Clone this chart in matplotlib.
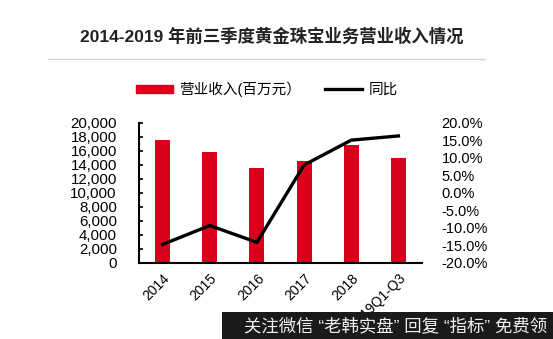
import matplotlib.pyplot as plt
from matplotlib.lines import Line2D
from matplotlib.patches import Patch, Rectangle

plt.rcParams['font.family'] = ['Liberation Sans', 'Noto Sans CJK SC', 'DejaVu Sans']

# 数据
years = ['2014', '2015', '2016', '2017', '2018', '2019Q1-Q3']
revenue = [17500, 15800, 13500, 14500, 16800, 15000]   # 营业收入(百万元)
yoy = [-14.7, -9.3, -14.1, 8.0, 15.1, 16.3]            # 同比, %

red = '#d9001b'

fig = plt.figure(figsize=(5.53, 3.39), dpi=100)
ax = fig.add_axes([0.2514, 0.2242, 0.5117, 0.413])
x = list(range(len(years)))
ax.bar(x, revenue, width=0.32, color=red, zorder=2)
ax.set_xlim(-0.5, 5.5)
ax.set_ylim(0, 20000)
ax.set_yticks(range(0, 20001, 2000))
ax.set_yticklabels([f'{v:,}' for v in range(0, 20001, 2000)])
ax.set_xticks(x)
ax.set_xticklabels(years, rotation=45, ha='right', rotation_mode='anchor')
ax.tick_params(axis='y', direction='in', length=3, width=1.2, pad=16, labelsize=10.8)
ax.tick_params(axis='x', length=0, pad=6, labelsize=10)
for s in ['top', 'right']:
    ax.spines[s].set_visible(False)
ax.spines['left'].set_linewidth(1.5)
ax.spines['bottom'].set_linewidth(1.5)

ax2 = ax.twinx()
ax2.plot(x, yoy, color='black', linewidth=2.4, zorder=3)
ax2.set_ylim(-20, 20)
ax2.set_yticks(range(-20, 21, 5))
ax2.set_yticklabels([f'{v:.1f}%' for v in range(-20, 21, 5)])
ax2.tick_params(axis='y', length=0, pad=14, labelsize=10.5)
for s in ['top', 'right', 'left', 'bottom']:
    ax2.spines[s].set_visible(False)

# 标题与分隔线
fig.text(0.492, 0.895, '2014-2019 年前三季度黄金珠宝业务营业收入情况',
         ha='center', va='center', fontsize=12.5, fontweight='bold', color='#222222')
fig.add_artist(Line2D([0.087, 0.877], [0.826, 0.826], color='#ecc8c8', linewidth=1))

# 图例
handles = [Patch(color=red), Line2D([], [], color='black', linewidth=2.4)]
fig.legend(handles, ['营业收入(百万元）', '同比'], loc='center', ncol=2,
           bbox_to_anchor=(0.482, 0.737), frameon=False, fontsize=10.5,
           handlelength=2.6, handleheight=0.5, columnspacing=1.6, handletextpad=0.4)

# 底部水印
fig.add_artist(Rectangle((0.401, 0.0), 0.599, 0.08, transform=fig.transFigure,
                         facecolor='#1a1a1a', edgecolor='none'))
fig.text(0.99, 0.04, '关注微信 “老韩实盘” 回复 “指标” 免费领', ha='right', va='center',
         fontsize=12.5, color='#f0f0f0')

fig.savefig('out.png', dpi=100)
